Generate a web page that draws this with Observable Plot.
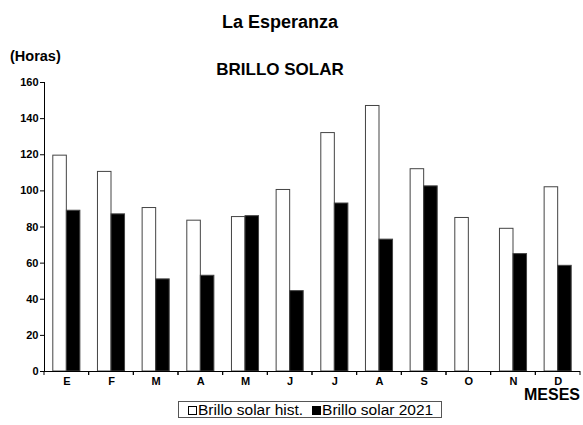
<!DOCTYPE html>
<html><head><meta charset="utf-8">
<script src="https://cdn.jsdelivr.net/npm/d3@7"></script>
<script src="https://cdn.jsdelivr.net/npm/@observablehq/plot@0.6"></script>
<style>
body{margin:0;background:#fff;font-family:"Liberation Sans",Arial,sans-serif;color:#000;}
#wrap{position:relative;width:583px;height:425px;overflow:hidden;}
.t{position:absolute;font-weight:bold;white-space:nowrap;line-height:1;}
#chart{position:absolute;left:0;top:76px;}
#legend{position:absolute;left:178px;top:401px;width:264px;height:17px;box-sizing:border-box;border:1px solid #555;font-size:15.5px;line-height:15px;white-space:nowrap;padding-left:9px;}
#legend .sw{display:inline-block;width:9px;height:9px;box-sizing:border-box;border:1px solid #000;margin-right:1px;vertical-align:0px;}
#legend .it{margin-right:9px;}
</style></head><body>
<div id="wrap">
  <div class="t" style="left:0;width:560px;text-align:center;top:12.5px;font-size:18px">La Esperanza</div>
  <div class="t" style="left:10px;top:48.5px;font-size:14.5px">(Horas)</div>
  <div class="t" style="left:0;width:560px;text-align:center;top:61px;font-size:17px">BRILLO SOLAR</div>
  <div id="chart"></div>
  <div class="t" style="right:3px;top:387px;font-size:16px">MESES</div>
  <div id="legend"></div>
</div>
<script>
const months = ["E","F","M","A","M","J","J","A","S","O","N","D"];
const series = ["Brillo solar hist.", "Brillo solar 2021"];
const histValues = [119.5, 110.5, 90.5, 83.5, 85.5, 100.5, 132, 147, 112, 85, 79, 102];
const values2021 = [89, 87, 51, 53, 86, 44.5, 93, 73, 102.5, null, 65, 58.5];
const yTicks = [0, 20, 40, 60, 80, 100, 120, 140, 160];
const seriesColors = ["#fff", "#000"];

const rows = months.flatMap((m, i) => [
  {i, m, s: series[0], v: histValues[i]},
  {i, m, s: series[1], v: values2021[i]}
]).filter(d => d.v != null);

function boundaryTicks(index, scales, values, dimensions) {
  const x = scales.x, y = scales.y;
  let x0, x1;
  if (x && typeof x.range === "function") { [x0, x1] = x.range(); }
  else { x0 = dimensions.marginLeft; x1 = dimensions.width - dimensions.marginRight; }
  const y0 = y(0);
  const g = d3.create("svg:g").attr("stroke", "#000").attr("stroke-width", 1);
  for (const xv of [x0, x1]) {
    g.append("line").attr("x1", xv).attr("x2", xv).attr("y1", y0).attr("y2", y0 + 4);
  }
  return g.node();
}

const plot = Plot.plot({
  width: 583,
  height: 324,
  marginTop: 6,
  marginBottom: 29,
  marginLeft: 44,
  marginRight: 3,
  style: {fontFamily: "'Liberation Sans', Arial, sans-serif", fontSize: "11px", fontWeight: "bold", color: "#000", background: "transparent"},
  fx: {domain: d3.range(months.length), padding: 0, round: false, tickFormat: i => months[i], tickSize: 0, tickPadding: 6, label: null, axis: "bottom"},
  x: {domain: series, paddingInner: 0, paddingOuter: 0.65, round: false, axis: null},
  y: {domain: [0, 160], ticks: yTicks, tickSize: 4, tickPadding: 2, line: true, label: null},
  color: {domain: series, range: seriesColors},
  marks: [
    Plot.barY(rows, {fx: "i", x: "s", y: "v", fill: "s", stroke: "#444", strokeWidth: 1}),
    Plot.ruleY([0], {stroke: "#000"}),
    boundaryTicks
  ]
});
document.getElementById("chart").appendChild(plot);

const legend = d3.select("#legend");
series.forEach((s, k) => {
  const it = legend.append("span").attr("class", "it");
  it.append("span").attr("class", "sw").style("background", seriesColors[k]);
  it.append("span").text(s);
});
</script>
</body></html>
